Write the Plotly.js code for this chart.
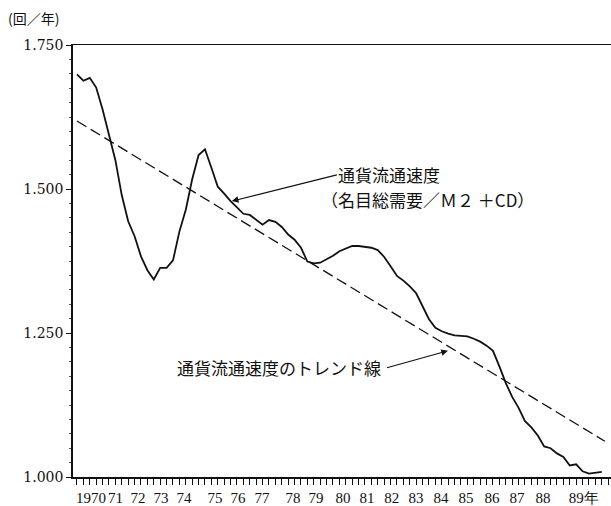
<!DOCTYPE html>
<html>
<head>
<meta charset="utf-8">
<script src="https://cdn.plot.ly/plotly-3.0.1.min.js"></script>
<style>html,body{margin:0;padding:0;background:#fff;}#chart{width:611px;height:506px;}</style>
</head>
<body>
<div id="chart"></div>
<script>
// Quarterly money velocity (nominal aggregate demand / M2+CD), 1970Q1 onward
const startYear = 1970;
const velocity = [
  1.699, 1.688, 1.693, 1.676, 1.638, 1.594, 1.550, 1.489,
  1.444, 1.418, 1.383, 1.359, 1.343, 1.363, 1.363, 1.376,
  1.426, 1.464, 1.517, 1.559, 1.569, 1.537, 1.504, 1.492,
  1.479, 1.468, 1.457, 1.455, 1.446, 1.438, 1.446, 1.443,
  1.434, 1.421, 1.412, 1.398, 1.374, 1.371, 1.372, 1.378,
  1.384, 1.392, 1.397, 1.401, 1.401, 1.400, 1.398, 1.394,
  1.382, 1.366, 1.349, 1.341, 1.331, 1.319, 1.297, 1.274,
  1.259, 1.253, 1.249, 1.246, 1.245, 1.244, 1.240, 1.235,
  1.228, 1.219, 1.192, 1.163, 1.139, 1.120, 1.097, 1.086,
  1.072, 1.053, 1.050, 1.041, 1.035, 1.020, 1.022, 1.010,
  1.006, 1.007, 1.009
];
const quarterX = velocity.map((v, i) => startYear + i * 0.25);

// Trend line end points
const trendX = [1970.0, 1990.62];
const trendY = [1.618, 1.062];

// Axis labels
const xTickPos = [1970.55, 1971.50, 1972.38, 1973.28, 1974.18, 1975.39, 1976.29, 1977.23, 1978.44, 1979.34,
                  1980.39, 1981.33, 1982.30, 1983.24, 1984.22, 1985.20, 1986.21, 1987.19, 1988.20, 1989.80];
const xTickText = ["1970", "71", "72", "73", "74", "75", "76", "77", "78", "79",
                   "80", "81", "82", "83", "84", "85", "86", "87", "88", "89年"];
const yTickVals = [1.0, 1.25, 1.5, 1.75];
const yTickText = ["1.000", "1.250", "1.500", "1.750"];

const jp = "Noto Sans CJK JP";

const traces = [
  {
    x: quarterX, y: velocity, type: "scatter", mode: "lines",
    line: {color: "#111", width: 1.8}, hoverinfo: "skip"
  },
  {
    x: trendX, y: trendY, type: "scatter", mode: "lines",
    line: {color: "#111", width: 1.3, dash: "11px,5px"}, hoverinfo: "skip"
  }
];

const layout = {
  width: 611, height: 506,
  margin: {l: 73, r: 0, t: 45, b: 29},
  paper_bgcolor: "#fff", plot_bgcolor: "#fff",
  showlegend: false,
  xaxis: {
    range: [1969.844, 1990.86],
    tickmode: "array", tickvals: xTickPos, ticktext: xTickText, tickangle: 0,
    ticks: "outside", ticklen: 6, tickcolor: "rgba(0,0,0,0)",
    minor: {tickmode: "linear", tick0: 1970, dtick: 0.25, ticks: "outside", ticklen: 6, tickcolor: "#111", tickwidth: 1, showgrid: false},
    showgrid: false, zeroline: false,
    showline: true, linecolor: "#111", linewidth: 1.5, mirror: true,
    tickfont: {family: "Liberation Serif", size: 15, color: "#111"}
  },
  yaxis: {
    range: [1.0, 1.75],
    tickmode: "array", tickvals: yTickVals, ticktext: yTickText,
    ticks: "outside", ticklen: 5, tickcolor: "#111", tickwidth: 1,
    minor: {tickmode: "linear", tick0: 1.0, dtick: 0.025, ticks: "outside", ticklen: 2, tickcolor: "#555", tickwidth: 1, showgrid: false},
    showgrid: false, zeroline: false,
    showline: true, linecolor: "#111", linewidth: 1.8,
    tickfont: {family: "DejaVu Serif", size: 14, color: "#111"}
  },
  annotations: [
    {xref: "paper", yref: "paper", x: -0.125, y: 1.0, yshift: 27, xanchor: "left", yanchor: "middle",
     text: "(回／年)", showarrow: false, font: {family: jp, size: 14, color: "#111"}},
    {xref: "x", yref: "y", x: 1976.05, y: 1.479, axref: "x", ayref: "y", ax: 1980.15, ay: 1.5245,
     xanchor: "left", yanchor: "middle", borderpad: 0,
     text: "通貨流通速度", showarrow: true, arrowhead: 2, arrowsize: 1.2, arrowwidth: 1.1,
     arrowcolor: "#111", standoff: 0, font: {family: jp, size: 17, color: "#111"}},
    {xref: "x", yref: "y", x: 1979.49, y: 1.4825, xanchor: "left", yanchor: "middle", borderpad: 0,
     text: "（名目総需要／Ｍ２ ＋CD）", showarrow: false,
     font: {family: jp, size: 17, color: "#111"}},
    {xref: "x", yref: "y", x: 1973.83, y: 1.19, xanchor: "left", yanchor: "middle",
     text: "通貨流通速度のトレンド線", showarrow: false, font: {family: jp, size: 17, color: "#111"}},
    {xref: "x", yref: "y", x: 1984.49, y: 1.219, axref: "x", ayref: "y", ax: 1982.05, ay: 1.189,
     text: "", showarrow: true, arrowhead: 2, arrowsize: 1.2, arrowwidth: 1.1, arrowcolor: "#111", standoff: 0}
  ]
};

Plotly.newPlot("chart", traces, layout, {staticPlot: true, displayModeBar: false});
</script>
</body>
</html>
